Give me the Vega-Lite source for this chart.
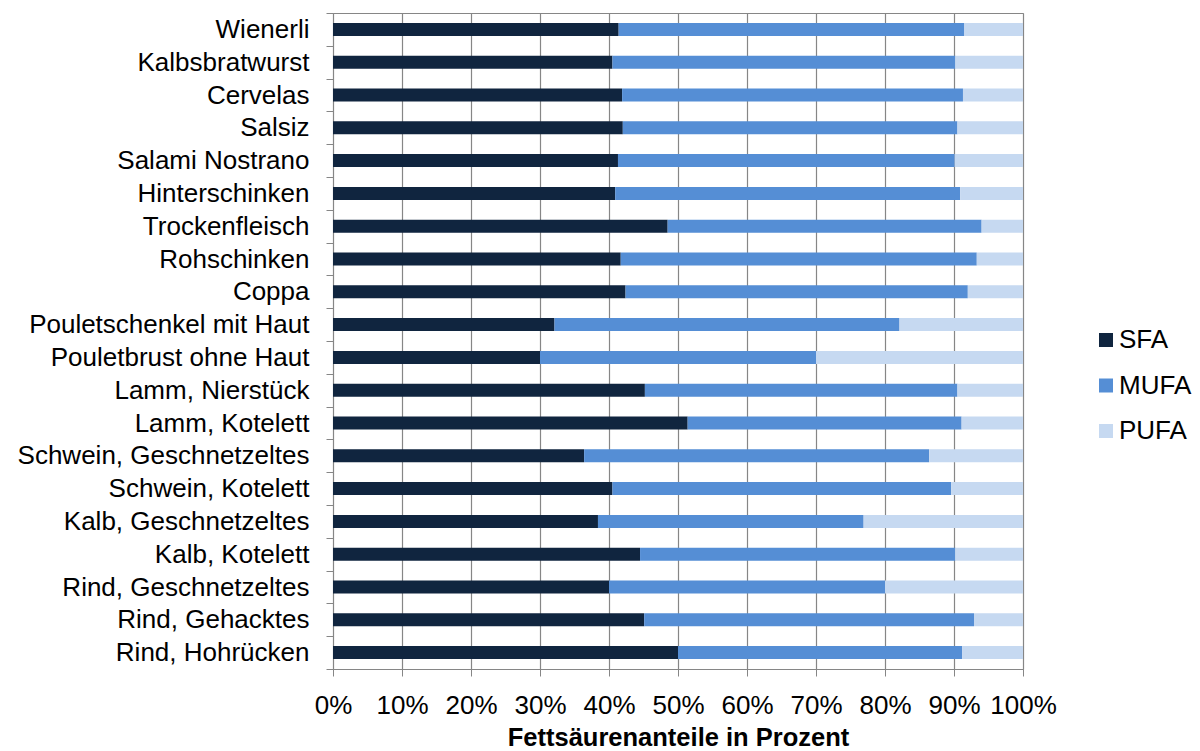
{
  "$schema": "https://vega.github.io/schema/vega-lite/v6.json",
  "width": 690,
  "height": 656,
  "autosize": {"type": "none"},
  "padding": {"left": 333, "top": 13, "right": 177, "bottom": 82},
  "background": "white",
  "config": {
    "font": "Liberation Sans",
    "view": {"stroke": "#868686", "strokeWidth": 1},
    "axis": {"labelColor": "#000000", "titleColor": "#000000", "domainColor": "#868686", "tickColor": "#868686", "gridColor": "#868686"}
  },
  "data": {
    "values": [
      {"Produkt": "Wienerli", "Fettsäure": "SFA", "Anteil": 41.4},
      {"Produkt": "Wienerli", "Fettsäure": "MUFA", "Anteil": 50.1},
      {"Produkt": "Wienerli", "Fettsäure": "PUFA", "Anteil": 8.5},
      {"Produkt": "Kalbsbratwurst", "Fettsäure": "SFA", "Anteil": 40.5},
      {"Produkt": "Kalbsbratwurst", "Fettsäure": "MUFA", "Anteil": 49.7},
      {"Produkt": "Kalbsbratwurst", "Fettsäure": "PUFA", "Anteil": 9.8},
      {"Produkt": "Cervelas", "Fettsäure": "SFA", "Anteil": 41.9},
      {"Produkt": "Cervelas", "Fettsäure": "MUFA", "Anteil": 49.4},
      {"Produkt": "Cervelas", "Fettsäure": "PUFA", "Anteil": 8.7},
      {"Produkt": "Salsiz", "Fettsäure": "SFA", "Anteil": 42.0},
      {"Produkt": "Salsiz", "Fettsäure": "MUFA", "Anteil": 48.5},
      {"Produkt": "Salsiz", "Fettsäure": "PUFA", "Anteil": 9.5},
      {"Produkt": "Salami Nostrano", "Fettsäure": "SFA", "Anteil": 41.3},
      {"Produkt": "Salami Nostrano", "Fettsäure": "MUFA", "Anteil": 48.8},
      {"Produkt": "Salami Nostrano", "Fettsäure": "PUFA", "Anteil": 9.9},
      {"Produkt": "Hinterschinken", "Fettsäure": "SFA", "Anteil": 40.9},
      {"Produkt": "Hinterschinken", "Fettsäure": "MUFA", "Anteil": 50.0},
      {"Produkt": "Hinterschinken", "Fettsäure": "PUFA", "Anteil": 9.1},
      {"Produkt": "Trockenfleisch", "Fettsäure": "SFA", "Anteil": 48.5},
      {"Produkt": "Trockenfleisch", "Fettsäure": "MUFA", "Anteil": 45.5},
      {"Produkt": "Trockenfleisch", "Fettsäure": "PUFA", "Anteil": 6.0},
      {"Produkt": "Rohschinken", "Fettsäure": "SFA", "Anteil": 41.7},
      {"Produkt": "Rohschinken", "Fettsäure": "MUFA", "Anteil": 51.6},
      {"Produkt": "Rohschinken", "Fettsäure": "PUFA", "Anteil": 6.7},
      {"Produkt": "Coppa", "Fettsäure": "SFA", "Anteil": 42.4},
      {"Produkt": "Coppa", "Fettsäure": "MUFA", "Anteil": 49.6},
      {"Produkt": "Coppa", "Fettsäure": "PUFA", "Anteil": 8.0},
      {"Produkt": "Pouletschenkel mit Haut", "Fettsäure": "SFA", "Anteil": 32.1},
      {"Produkt": "Pouletschenkel mit Haut", "Fettsäure": "MUFA", "Anteil": 50.0},
      {"Produkt": "Pouletschenkel mit Haut", "Fettsäure": "PUFA", "Anteil": 17.9},
      {"Produkt": "Pouletbrust ohne Haut", "Fettsäure": "SFA", "Anteil": 30.0},
      {"Produkt": "Pouletbrust ohne Haut", "Fettsäure": "MUFA", "Anteil": 40.0},
      {"Produkt": "Pouletbrust ohne Haut", "Fettsäure": "PUFA", "Anteil": 30.0},
      {"Produkt": "Lamm, Nierstück", "Fettsäure": "SFA", "Anteil": 45.2},
      {"Produkt": "Lamm, Nierstück", "Fettsäure": "MUFA", "Anteil": 45.3},
      {"Produkt": "Lamm, Nierstück", "Fettsäure": "PUFA", "Anteil": 9.5},
      {"Produkt": "Lamm, Kotelett", "Fettsäure": "SFA", "Anteil": 51.4},
      {"Produkt": "Lamm, Kotelett", "Fettsäure": "MUFA", "Anteil": 39.7},
      {"Produkt": "Lamm, Kotelett", "Fettsäure": "PUFA", "Anteil": 8.9},
      {"Produkt": "Schwein, Geschnetzeltes", "Fettsäure": "SFA", "Anteil": 36.4},
      {"Produkt": "Schwein, Geschnetzeltes", "Fettsäure": "MUFA", "Anteil": 50.0},
      {"Produkt": "Schwein, Geschnetzeltes", "Fettsäure": "PUFA", "Anteil": 13.6},
      {"Produkt": "Schwein, Kotelett", "Fettsäure": "SFA", "Anteil": 40.5},
      {"Produkt": "Schwein, Kotelett", "Fettsäure": "MUFA", "Anteil": 49.1},
      {"Produkt": "Schwein, Kotelett", "Fettsäure": "PUFA", "Anteil": 10.4},
      {"Produkt": "Kalb, Geschnetzeltes", "Fettsäure": "SFA", "Anteil": 38.4},
      {"Produkt": "Kalb, Geschnetzeltes", "Fettsäure": "MUFA", "Anteil": 38.5},
      {"Produkt": "Kalb, Geschnetzeltes", "Fettsäure": "PUFA", "Anteil": 23.1},
      {"Produkt": "Kalb, Kotelett", "Fettsäure": "SFA", "Anteil": 44.5},
      {"Produkt": "Kalb, Kotelett", "Fettsäure": "MUFA", "Anteil": 45.7},
      {"Produkt": "Kalb, Kotelett", "Fettsäure": "PUFA", "Anteil": 9.8},
      {"Produkt": "Rind, Geschnetzeltes", "Fettsäure": "SFA", "Anteil": 40.0},
      {"Produkt": "Rind, Geschnetzeltes", "Fettsäure": "MUFA", "Anteil": 40.0},
      {"Produkt": "Rind, Geschnetzeltes", "Fettsäure": "PUFA", "Anteil": 20.0},
      {"Produkt": "Rind, Gehacktes", "Fettsäure": "SFA", "Anteil": 45.1},
      {"Produkt": "Rind, Gehacktes", "Fettsäure": "MUFA", "Anteil": 47.8},
      {"Produkt": "Rind, Gehacktes", "Fettsäure": "PUFA", "Anteil": 7.1},
      {"Produkt": "Rind, Hohrücken", "Fettsäure": "SFA", "Anteil": 50.0},
      {"Produkt": "Rind, Hohrücken", "Fettsäure": "MUFA", "Anteil": 41.2},
      {"Produkt": "Rind, Hohrücken", "Fettsäure": "PUFA", "Anteil": 8.8}
    ]
  },
  "transform": [
    {"calculate": "indexof(['SFA', 'MUFA', 'PUFA'], datum['Fettsäure'])", "as": "Stapelfolge"}
  ],
  "mark": {"type": "bar", "size": 13},
  "encoding": {
    "y": {
      "field": "Produkt",
      "type": "nominal",
      "sort": null,
      "scale": {"paddingInner": 0, "paddingOuter": 0},
      "axis": {
        "title": null,
        "labelFontSize": 26,
        "labelLimit": 400,
        "labelPadding": 17,
        "tickSize": 7,
        "tickBand": "extent"
      }
    },
    "x": {
      "field": "Anteil",
      "type": "quantitative",
      "stack": "normalize",
      "scale": {"domain": [0, 1], "nice": false},
      "axis": {
        "values": [0, 0.1, 0.2, 0.3, 0.4, 0.5, 0.6, 0.7, 0.8, 0.9, 1],
        "format": ".0%",
        "grid": true,
        "gridWidth": 1.2,
        "tickSize": 7,
        "labelPadding": 16,
        "labelFontSize": 26,
        "labelFlush": false,
        "labelOverlap": false,
        "title": "Fettsäurenanteile in Prozent",
        "titleFontSize": 25.5,
        "titleFontWeight": "bold",
        "titleBaseline": "alphabetic",
        "titleY": 76
      }
    },
    "order": {"field": "Stapelfolge", "type": "quantitative", "sort": "ascending"},
    "color": {
      "field": "Fettsäure",
      "type": "nominal",
      "sort": ["SFA", "MUFA", "PUFA"],
      "scale": {"domain": ["SFA", "MUFA", "PUFA"], "range": ["#10253F", "#558ED5", "#C6D9F1"]},
      "legend": {
        "title": null,
        "orient": "none",
        "legendX": 760,
        "legendY": 314,
        "padding": 0,
        "symbolType": "square",
        "symbolSize": 196,
        "symbolStrokeWidth": 0,
        "labelFontSize": 26,
        "labelColor": "#000000",
        "labelOffset": 0,
        "rowPadding": 19.5
      }
    }
  }
}
